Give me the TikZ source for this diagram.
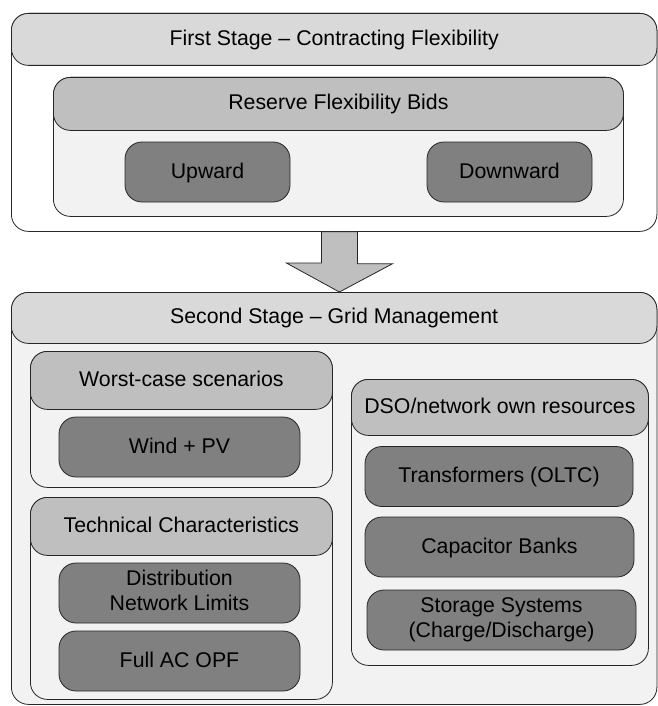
\documentclass[tikz,border=0pt]{standalone}
\usepackage{fontspec}
\setmainfont{Liberation Sans}
\usepackage{tikz}
\usetikzlibrary{positioning,calc}
\definecolor{HeadGray}{HTML}{D9D9D9}
\definecolor{GroupGray}{HTML}{BFBFBF}
\definecolor{LeafGray}{HTML}{808080}
\definecolor{BodyGray}{HTML}{F2F2F2}
\definecolor{LineGray}{HTML}{262626}

\begin{document}
\begin{tikzpicture}[x=1pt,y=1pt,
  box/.style={draw=LineGray,line width=0.8pt,rounded corners=17pt,inner sep=0pt,
    font=\fontsize{21.3}{25}\selectfont,align=center,
    execute at begin node={\rule{0pt}{17pt}},
    execute at end node={\rule[-5pt]{0pt}{5pt}}},
  stagebox/.style={box,fill=white,anchor=north west},
  stagehead/.style={box,fill=HeadGray,anchor=north west},
  groupbox/.style={box,fill=BodyGray,anchor=north west},
  grouphead/.style={box,fill=GroupGray,anchor=north west},
  leafbox/.style={box,fill=LeafGray,minimum height=60pt},
  blockarrow/.style={draw=LineGray,line width=0.8pt,fill=GroupGray,line join=miter}]
\useasboundingbox (0,0) rectangle (657,-706);

\node[stagebox,minimum width=645.5pt,minimum height=218pt] (stage1) at (11,-13) {};
\node[stagehead,minimum width=645.5pt,minimum height=52pt] (stage1h) at (stage1.north west)
  {First Stage -- Contracting Flexibility};
\node[groupbox,minimum width=570pt,minimum height=139pt] (bids) at (53,-77) {};
\node[grouphead,minimum width=570pt,minimum height=53pt] (bidsh) at (bids.north west)
  {Reserve Flexibility Bids};
\node[leafbox,minimum width=165pt] (up) at (207.5,-172) {Upward};
\node[leafbox,minimum width=165pt] (down) at (509.5,-172) {Downward};

\node[groupbox,minimum width=645.5pt,minimum height=412pt] (stage2) at (11,-292) {};
\node[stagehead,minimum width=645.5pt,minimum height=51pt] (stage2h) at (stage2.north west)
  {Second Stage -- Grid Management};

\node[groupbox,minimum width=302pt,minimum height=136pt] (worst) at (30,-351) {};
\node[grouphead,minimum width=302pt,minimum height=58pt] (worsth) at (worst.north west)
  {Worst-case scenarios};
\node[leafbox,minimum width=241pt] (windpv) at (179.5,-447) {Wind + PV};

\node[groupbox,minimum width=302pt,minimum height=202pt] (tech) at (30,-497) {};
\node[grouphead,minimum width=302pt,minimum height=58pt] (techh) at (tech.north west)
  {Technical Characteristics};
\node[leafbox,minimum width=241pt] (limits) at (179.5,-593) {Distribution\\Network Limits};
\node[leafbox,minimum width=241pt] (opf) at (179.5,-661) {Full AC OPF};

\node[groupbox,minimum width=297pt,minimum height=286pt] (dso) at (351,-379) {};
\node[grouphead,minimum width=297pt,minimum height=56pt] (dsoh) at (dso.north west)
  {DSO/network own resources};
\node[leafbox,minimum width=268pt] (oltc) at (499,-476.5) {Transformers (OLTC)};
\node[leafbox,minimum width=269pt] (caps) at (499.5,-547) {Capacitor Banks};
\node[leafbox,minimum width=269pt] (storage) at (501.5,-620) {Storage Systems\\(Charge/Discharge)};

\path (stage1.south) ++(5.25,0) coordinate (atop);
\draw[blockarrow] (atop) ++(-18,0) -- ++(36,0) -- ++(0,-32) -- ++(35,0)
  -- (atop |- stage2.north) -- ++(-53,29) -- ++(35,0) -- cycle;
\end{tikzpicture}
\end{document}
